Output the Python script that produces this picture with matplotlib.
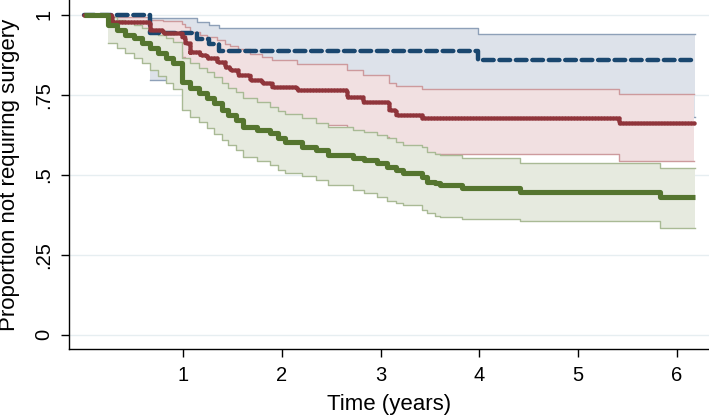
import matplotlib
matplotlib.use("Agg")
import matplotlib.pyplot as plt

plt.rcParams['font.family'] = ['Liberation Sans', 'DejaVu Sans']

# Kaplan-Meier estimates (event times in years)
blue_t = [0.67, 1.14, 1.26, 1.36, 3.99]
blue_s = [0.944, 0.925, 0.907, 0.888, 0.858]
blue_lo = [0.796, 0.770, 0.745, 0.720, 0.680]
blue_hi = [0.989, 0.978, 0.968, 0.957, 0.940]
blue_end = 6.18

red_t = [0.28, 0.67, 0.80, 0.99, 1.02, 1.07, 1.17, 1.24, 1.34, 1.42, 1.48,
         1.56, 1.68, 1.80, 1.90, 2.15, 2.66, 2.82, 3.08, 3.16, 3.42, 5.41]
red_s = [0.978, 0.952, 0.942, 0.931, 0.911, 0.884, 0.874, 0.864, 0.853, 0.838, 0.827,
         0.812, 0.796, 0.786, 0.775, 0.765, 0.742, 0.728, 0.702, 0.686, 0.676, 0.661]
red_lo = [0.930, 0.896, 0.882, 0.868, 0.844, 0.812, 0.800, 0.788, 0.775, 0.757, 0.745,
          0.727, 0.708, 0.694, 0.676, 0.656, 0.636, 0.618, 0.590, 0.573, 0.564, 0.544]
red_hi = [0.994, 0.985, 0.980, 0.972, 0.962, 0.945, 0.938, 0.931, 0.922, 0.910, 0.902,
          0.892, 0.876, 0.868, 0.857, 0.845, 0.826, 0.811, 0.788, 0.778, 0.767, 0.752]
red_end = 6.17

green_t = [0.24, 0.33, 0.41, 0.50, 0.58, 0.67, 0.75, 0.83, 0.90, 0.99,
           1.07, 1.16, 1.24, 1.31, 1.39, 1.46, 1.54, 1.61, 1.75, 1.88,
           1.96, 2.03, 2.20, 2.35, 2.47, 2.72, 2.83, 2.96, 3.06, 3.16,
           3.23, 3.42, 3.47, 3.55, 3.60, 3.82, 4.41, 5.83]
green_s = [0.968, 0.952, 0.937, 0.926, 0.911, 0.895, 0.879, 0.864, 0.848, 0.791,
           0.770, 0.754, 0.739, 0.723, 0.702, 0.686, 0.671, 0.650, 0.640, 0.629,
           0.614, 0.603, 0.588, 0.577, 0.561, 0.553, 0.546, 0.536, 0.525, 0.515,
           0.504, 0.494, 0.478, 0.473, 0.468, 0.457, 0.447, 0.431]
green_lo = [0.911, 0.895, 0.879, 0.864, 0.848, 0.826, 0.808, 0.788, 0.767, 0.702,
            0.681, 0.664, 0.645, 0.628, 0.608, 0.592, 0.576, 0.556, 0.543, 0.530,
            0.515, 0.505, 0.495, 0.484, 0.468, 0.452, 0.442, 0.430, 0.418, 0.410,
            0.405, 0.390, 0.379, 0.371, 0.368, 0.362, 0.355, 0.332]
green_hi = [0.992, 0.985, 0.976, 0.968, 0.958, 0.948, 0.937, 0.926, 0.914, 0.866,
            0.848, 0.834, 0.820, 0.806, 0.786, 0.772, 0.758, 0.740, 0.727, 0.713,
            0.700, 0.690, 0.676, 0.663, 0.648, 0.640, 0.634, 0.624, 0.614, 0.603,
            0.593, 0.585, 0.572, 0.566, 0.562, 0.551, 0.538, 0.522]
green_end = 6.18

x_ticks = [1, 2, 3, 4, 5, 6]
y_ticks = [0, 0.25, 0.5, 0.75, 1]
y_tick_labels = ['0', '.25', '.5', '.75', '1']

groups = [
    # times, surv, lo, hi, end, line color, fill color, ci line color, line kwargs
    (blue_t, blue_s, blue_lo, blue_hi, blue_end, '#1a476f', '#dde2ea', '#8ea0b8',
     dict(lw=3.2, dashes=(2.4, 1.3), dash_capstyle='round')),
    (red_t, red_s, red_lo, red_hi, red_end, '#90353b', '#f1e0e1', '#cd9a9d',
     dict(lw=3.3, dashes=(0.1, 0.55), dash_capstyle='round')),
    (green_t, green_s, green_lo, green_hi, green_end, '#55752f', '#e6eadf', '#a9ba95',
     dict(lw=3.7, solid_capstyle='butt')),
]


def extend(times, vals, end):
    return list(times) + [end], list(vals) + [vals[-1]]


fig = plt.figure(figsize=(7.09, 4.16), dpi=100)
ax = fig.add_axes([69 / 709, 1 - 349 / 416, 640 / 709, 349 / 416])

for y in y_ticks:
    ax.axhline(y, color='#e6eef1', lw=1.0, zorder=0)

# confidence bands, drawn in order so later ones cover earlier ones
for i, (t, s, lo, hi, end, lc, fc, cc, kw) in enumerate(groups):
    tt, lo_e = extend(t, lo, end)
    _, hi_e = extend(t, hi, end)
    ax.fill_between(tt, lo_e, hi_e, step='post', color=fc, lw=0, zorder=1 + i)
    ax.step(tt, lo_e, where='post', color=cc, lw=1.0, zorder=1 + i)
    ax.step(tt, hi_e, where='post', color=cc, lw=1.0, zorder=1 + i)

# survival curves
for i, (t, s, lo, hi, end, lc, fc, cc, kw) in enumerate(groups):
    tt, ss = extend([0] + list(t), [1.0] + list(s), end)
    ax.step(tt, ss, where='post', color=lc, zorder=10 + i, **kw)

ax.set_xlim(-0.154, 6.324)
ax.set_ylim(-0.045, 1.046)

ax.spines['top'].set_visible(False)
ax.spines['right'].set_visible(False)
for sp in ('left', 'bottom'):
    ax.spines[sp].set_linewidth(1.0)

ax.set_xticks(x_ticks)
ax.set_yticks(y_ticks)
ax.set_yticklabels(y_tick_labels)
ax.tick_params(axis='both', length=5.5, width=1.0, labelsize=14.5, direction='out')
ax.tick_params(axis='x', pad=7)
ax.tick_params(axis='y', pad=6, labelrotation=90)
for lab in ax.get_yticklabels():
    lab.set_va('center')

ax.set_xlabel('Time (years)', fontsize=16, labelpad=6)
ax.set_ylabel('Proportion not requiring surgery', fontsize=16, labelpad=10)

fig.savefig('out.png', dpi=100, facecolor='white')
